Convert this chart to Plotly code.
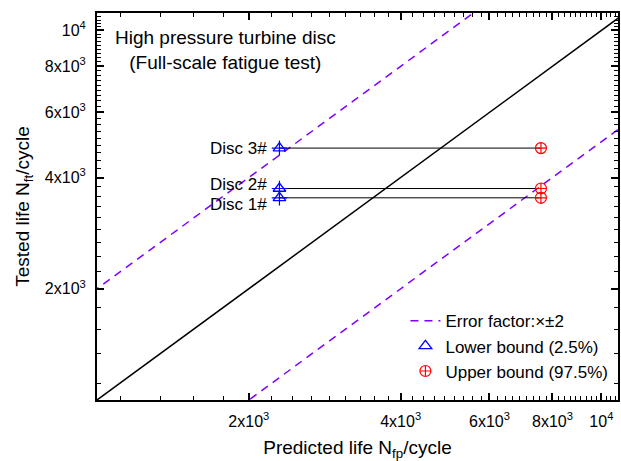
import plotly.graph_objects as go
import numpy as np

# Data
discs = ["Disc 1#", "Disc 2#", "Disc 3#"]
tested_life = [3525, 3735, 4805]
lower_bound = [2300, 2300, 2300]
upper_bound = [7590, 7590, 7590]
label_yshift = [-7, 4, 0]

error_factor = 2
x_range = [1000, 10790]
y_range = [1000, 11150]

major_ticks = [2000, 4000, 6000, 8000, 10000]
major_text = ["2x10<sup>3</sup>", "4x10<sup>3</sup>", "6x10<sup>3</sup>", "8x10<sup>3</sup>", "10<sup>4</sup>"]
minor_step = 2000 / 9
minor_ticks = [k * minor_step for k in range(1, 60)
               if 1000 < k * minor_step < 11200 and (k % 9) != 0]

FONT = "Liberation Sans, Arial, sans-serif"
PURPLE = "#8000FF"

fig = go.Figure()

line_x = [500, 30000]
# 1:1 line
fig.add_trace(go.Scatter(x=line_x, y=line_x, mode="lines",
                         line=dict(color="black", width=1.5), showlegend=False))
# error factor lines
fig.add_trace(go.Scatter(x=line_x, y=[v * error_factor for v in line_x], mode="lines",
                         line=dict(color=PURPLE, width=1.5, dash="8px,6px"),
                         name="Error factor:\u00d7\u00b12"))
fig.add_trace(go.Scatter(x=line_x, y=[v / error_factor for v in line_x], mode="lines",
                         line=dict(color=PURPLE, width=1.5, dash="8px,6px"),
                         showlegend=False))

# connecting lines
hx, hy = [], []
for lo, hi, t in zip(lower_bound, upper_bound, tested_life):
    hx += [lo, hi, None]
    hy += [t, t, None]
fig.add_trace(go.Scatter(x=hx, y=hy, mode="lines",
                         line=dict(color="black", width=1), showlegend=False))

# lower bound markers
fig.add_trace(go.Scatter(x=lower_bound, y=tested_life, mode="markers",
                         marker=dict(symbol="triangle-up-open", size=11, color="#0000FF",
                                     line=dict(width=1.3, color="#0000FF")),
                         name="Lower bound (2.5%)"))
fig.add_trace(go.Scatter(x=lower_bound, y=tested_life, mode="markers",
                         marker=dict(symbol="cross-thin-open", size=11, color="#0000FF",
                                     line=dict(width=1.2, color="#0000FF")),
                         showlegend=False))
# upper bound markers
fig.add_trace(go.Scatter(x=upper_bound, y=tested_life, mode="markers",
                         marker=dict(symbol="circle-cross-open", size=11, color="#FF0000",
                                     line=dict(width=1.2, color="#FF0000")),
                         name="Upper bound (97.5%)"))

# disc labels
for name, lo, t, ys in zip(discs, lower_bound, tested_life, label_yshift):
    fig.add_annotation(x=np.log10(lo), y=np.log10(t), text=name, showarrow=False,
                       xanchor="right", yanchor="middle", xshift=-10, yshift=ys,
                       font=dict(family=FONT, size=17, color="black"))

fig.add_annotation(x=0.247, y=0.904, xref="paper", yref="paper",
                   text="High pressure turbine disc<br>(Full-scale fatigue test)",
                   showarrow=False, align="center", xanchor="center", yanchor="middle",
                   font=dict(family=FONT, size=19, color="black"))

axis_common = dict(
    type="log", showgrid=False, zeroline=False,
    showline=True, linecolor="black", linewidth=2, mirror="allticks",
    ticks="inside", ticklen=7, tickwidth=1.5, tickcolor="black",
    tickmode="array", tickvals=major_ticks, ticktext=major_text,
    tickfont=dict(family=FONT, size=16, color="black"),
    minor=dict(tickmode="array", tickvals=minor_ticks, ticks="inside",
               ticklen=4, tickwidth=1, tickcolor="black"),
)

fig.update_xaxes(**axis_common, range=[np.log10(x_range[0]), np.log10(x_range[1])],
                 ticklabelstandoff=6,
                 title=dict(text="Predicted life N<sub>fp</sub>/cycle",
                            font=dict(family=FONT, size=19, color="black"), standoff=14))
fig.update_yaxes(**axis_common, range=[np.log10(y_range[0]), np.log10(y_range[1])],
                 ticklabelstandoff=6,
                 title=dict(text="Tested life N<sub>ft</sub>/cycle",
                            font=dict(family=FONT, size=19, color="black"), standoff=10))

fig.update_layout(
    width=621, height=461,
    margin=dict(l=97, r=1, t=13, b=61),
    paper_bgcolor="white", plot_bgcolor="white",
    showlegend=True,
    legend=dict(x=0.592, y=0.25, xanchor="left", yanchor="top",
                bgcolor="rgba(0,0,0,0)", font=dict(family=FONT, size=17, color="black"),
                itemwidth=30, tracegroupgap=0),
    font=dict(family=FONT),
)

fig.write_html("out.html")
